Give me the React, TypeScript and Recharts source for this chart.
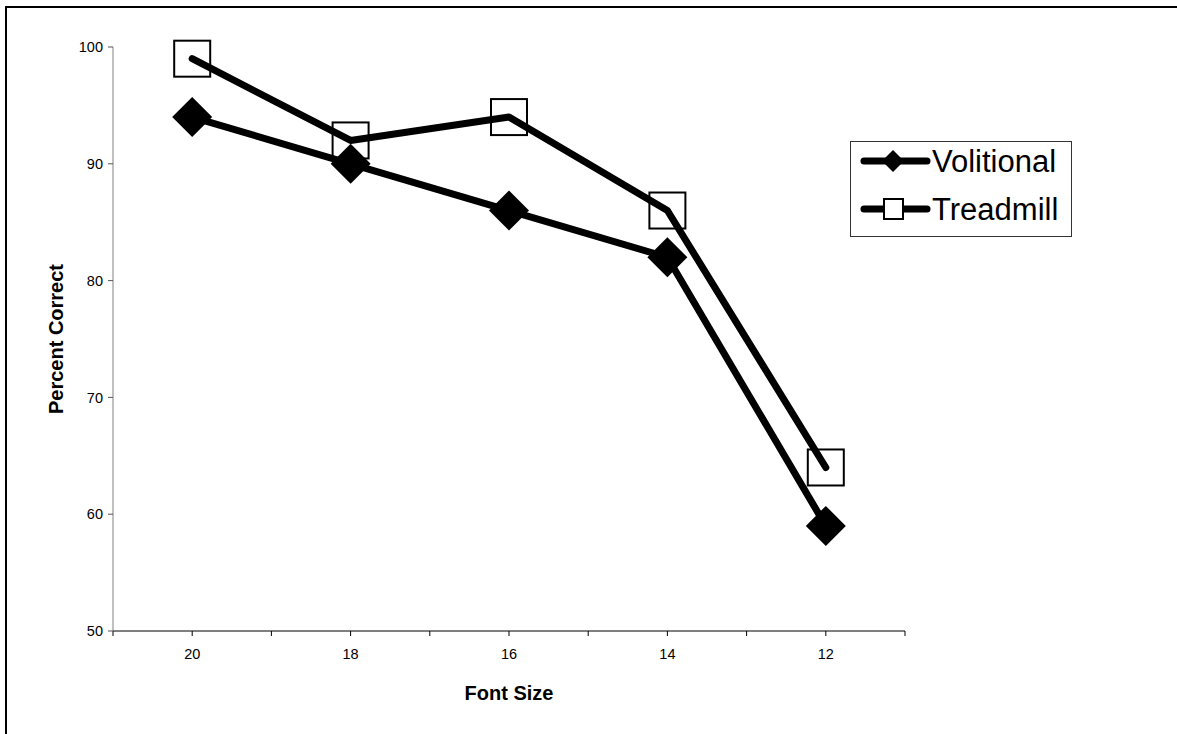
import React from 'react';
import { LineChart, Line, XAxis, YAxis, Legend } from 'recharts';

const categories = ['20', '18', '16', '14', '12'];
const volitional = [94, 90, 86, 82, 59];
const treadmill = [99, 92, 94, 86, 64];
const yTicks = [50, 60, 70, 80, 90, 100];

const data = categories.map((c, i) => ({
  x: i,
  label: c,
  Volitional: volitional[i],
  Treadmill: treadmill[i],
}));

const xTicks: number[] = [];
for (let i = -0.5; i <= categories.length - 0.5; i += 0.5) xTicks.push(i);

const FONT = 'Liberation Sans, Arial, sans-serif';

const Diamond = (props: any) => {
  const { cx, cy, index } = props;
  if (cx == null || cy == null) return <g key={'d' + index} />;
  const r = 20;
  return (
    <polygon
      key={'d' + index}
      points={`${cx},${cy - r} ${cx + r},${cy} ${cx},${cy + r} ${cx - r},${cy}`}
      fill="#000"
    />
  );
};

const Square = (props: any) => {
  const { cx, cy, index } = props;
  if (cx == null || cy == null) return <g key={'s' + index} />;
  const h = 18;
  return (
    <rect
      key={'s' + index}
      x={cx - h}
      y={cy - h}
      width={2 * h}
      height={2 * h}
      fill="none"
      stroke="#000"
      strokeWidth={2}
    />
  );
};

const LegendBox = () => {
  const rows = [
    { name: 'Volitional', marker: 'diamond' },
    { name: 'Treadmill', marker: 'square' },
  ];
  return (
    <svg width={222} height={96} style={{ display: 'block' }}>
      <rect x={0.5} y={0.5} width={221} height={95} fill="#fff" stroke="#333" strokeWidth={1} />
      {rows.map((r, i) => {
        const cy = 20 + i * 48;
        return (
          <g key={r.name}>
            <line x1={14} y1={cy} x2={77} y2={cy} stroke="#000" strokeWidth={7} strokeLinecap="round" />
            {r.marker === 'diamond' ? (
              <polygon points={`43,${cy - 11} 54,${cy} 43,${cy + 11} 32,${cy}`} fill="#000" />
            ) : (
              <rect x={34} y={cy - 10} width={19} height={20} fill="#fff" stroke="#000" strokeWidth={2} />
            )}
            <text x={82} y={cy} dominantBaseline="central" fontFamily={FONT} fontSize={31} fill="#000">
              {r.name}
            </text>
          </g>
        );
      })}
    </svg>
  );
};

export default function App() {
  return (
    <div style={{ position: 'absolute', left: 0, top: 0, width: 1177, height: 734, background: '#fff', overflow: 'hidden' }}>
      <div
        style={{
          position: 'absolute',
          left: 5,
          top: 6,
          width: 1200,
          height: 800,
          borderTop: '2px solid #000',
          borderLeft: '2px solid #000',
        }}
      />
      <LineChart
        width={1177}
        height={734}
        data={data}
        margin={{ top: 47, right: 272, bottom: 43, left: 0 }}
        style={{ position: 'absolute', left: 0, top: 0 }}
      >
        <XAxis
          dataKey="x"
          type="number"
          domain={[-0.5, categories.length - 0.5]}
          ticks={xTicks}
          interval={0}
          height={60}
          tickFormatter={(v: number) => (Number.isInteger(v) ? categories[v] : '')}
          tick={{ fontFamily: FONT, fontSize: 14.5, fill: '#000' }}
          tickSize={5}
          tickMargin={13}
          stroke="#000"
          axisLine={{ stroke: '#000', strokeWidth: 1 }}
          tickLine={{ stroke: '#000' }}
          label={(p: any) => {
            const vb = p.viewBox || {};
            return (
              <text
                x={vb.x + vb.width / 2}
                y={693}
                textAnchor="middle"
                dominantBaseline="central"
                fontFamily={FONT}
                fontWeight="bold"
                fontSize={20}
                fill="#000"
              >
                Font Size
              </text>
            );
          }}
        />
        <YAxis
          type="number"
          domain={[50, 100]}
          ticks={yTicks}
          interval={0}
          width={113}
          tick={{ fontFamily: FONT, fontSize: 14.5, fill: '#000' }}
          tickSize={5}
          tickMargin={5}
          axisLine={{ stroke: '#808080', strokeWidth: 1 }}
          tickLine={{ stroke: '#555' }}
          label={(p: any) => {
            const vb = p.viewBox || {};
            const cy = vb.y + vb.height / 2;
            return (
              <text
                x={56}
                y={cy}
                textAnchor="middle"
                dominantBaseline="central"
                transform={`rotate(-90, 56, ${cy})`}
                fontFamily={FONT}
                fontWeight="bold"
                fontSize={20}
                fill="#000"
              >
                Percent Correct
              </text>
            );
          }}
        />
        <Legend
          layout="horizontal"
          verticalAlign="middle"
          align="center"
          content={() => <LegendBox />}
          wrapperStyle={{ position: 'absolute', left: 850, top: 141, width: 222, height: 96 }}
        />
        <Line
          type="linear"
          dataKey="Treadmill"
          stroke="#000"
          strokeWidth={7}
          strokeLinecap="round"
          strokeLinejoin="round"
          dot={Square}
          activeDot={false}
          isAnimationActive={false}
        />
        <Line
          type="linear"
          dataKey="Volitional"
          stroke="#000"
          strokeWidth={7}
          strokeLinecap="round"
          strokeLinejoin="round"
          dot={Diamond}
          activeDot={false}
          isAnimationActive={false}
        />
      </LineChart>
    </div>
  );
}
